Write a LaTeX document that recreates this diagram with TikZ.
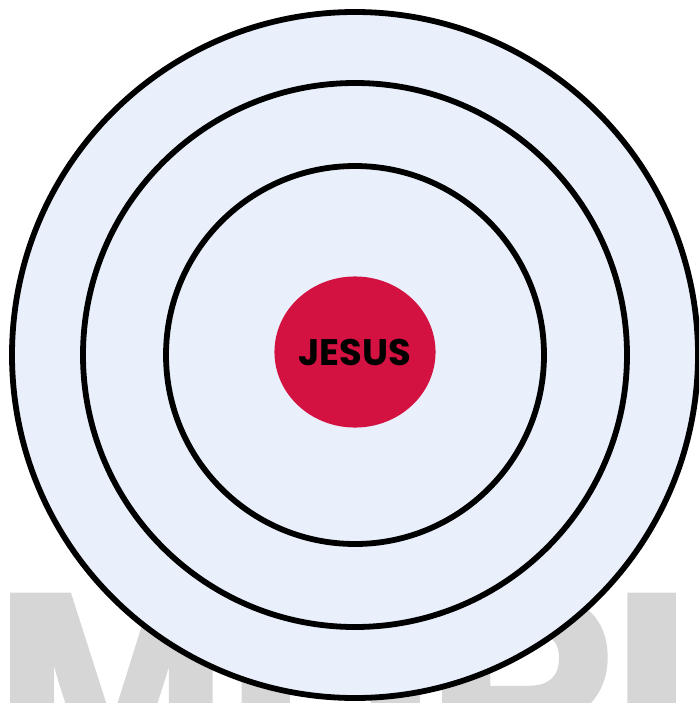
\documentclass[tikz,border=0pt]{standalone}
\usepackage{fontspec}
\usetikzlibrary{shapes.geometric}
\newfontfamily\markfont{Liberation Sans}[FakeBold=3]
\newfontfamily\labelfont{Poppins}
\definecolor{ringblue}{HTML}{E9F0FB}
\definecolor{corered}{HTML}{D41241}
\definecolor{markgray}{HTML}{D6D6D6}

\begin{document}
\begin{tikzpicture}[x=0.01cm,y=-0.01cm]
    \useasboundingbox (0,0) rectangle (699,703);
    \clip (0,0) rectangle (699,703);
    % 背景のロゴ
    \node[markgray, anchor=base west, inner sep=0pt,
          font=\markfont\bfseries\fontsize{79}{79}\selectfont] (logo) at (-5,788) {MDPI};
    % 同心円
    \foreach \r in {343,272,189} {
        \draw[black, line width=0.058cm, fill=ringblue] (355,355) circle (\r);
    }
    % 中心の円
    \node[ellipse, fill=corered, minimum width=1.61cm, minimum height=1.51cm, inner sep=0pt,
          font=\labelfont\bfseries\fontsize{10.5}{12}\selectfont] (jesus) at (355,352) {JESUS};
\end{tikzpicture}
\end{document}
